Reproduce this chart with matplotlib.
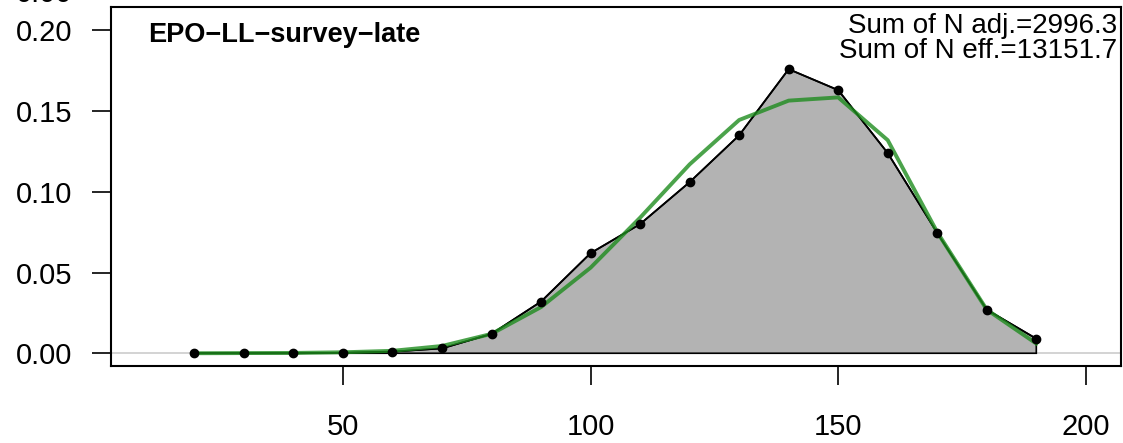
import matplotlib
matplotlib.use("Agg")
import matplotlib.pyplot as plt

plt.rcParams["font.family"] = ["Liberation Sans", "DejaVu Sans"]

FLEET = "EPO\u2212LL\u2212survey\u2212late"
N_ADJ = "Sum of N adj.=2996.3"
N_EFF = "Sum of N eff.=13151.7"

length_bins = [20, 30, 40, 50, 60, 70, 80, 90, 100, 110, 120, 130, 140, 150, 160, 170, 180, 190]
observed = [0.0, 0.0, 0.0, 0.0003, 0.001, 0.003, 0.012, 0.032, 0.062, 0.080,
            0.106, 0.135, 0.176, 0.163, 0.124, 0.0745, 0.027, 0.009]
expected = [0.0, 0.0001, 0.0002, 0.0006, 0.0015, 0.0045, 0.012, 0.0286, 0.053, 0.084,
            0.117, 0.1445, 0.1565, 0.1585, 0.132, 0.075, 0.027, 0.006]

x_ticks = [50, 100, 150, 200]
y_ticks = [0.0, 0.05, 0.10, 0.15, 0.20]

W, H = 1123, 443
fig = plt.figure(figsize=(W / 100, H / 100), dpi=100)
ax = fig.add_axes([111 / W, 1 - 366 / H, 1010 / W, 359 / H])

ax.axhline(0, color="#CCCCCC", lw=1.2, zorder=1)
poly_x = [length_bins[0], *length_bins, length_bins[-1]]
poly_y = [0, *observed, 0]
ax.fill(poly_x, poly_y, facecolor="#B3B3B3", edgecolor="black", lw=1.2, zorder=2)
ax.plot(length_bins, observed, color="black", lw=1.3, zorder=3)
ax.plot(length_bins, observed, "o", color="black", ms=6, zorder=5)
ax.plot(length_bins, expected, color="#1E8C1E", alpha=0.8, lw=2.8, zorder=4)

ax.set_xlim(3.17, 207.1)
ax.set_ylim(-0.0079, 0.2145)
ax.set_xticks(x_ticks)
ax.set_xticklabels([str(v) for v in x_ticks])
ax.set_yticks(y_ticks)
ax.set_yticklabels([f"{v:.2f}" for v in y_ticks])
ax.tick_params(axis="both", labelsize=21, length=14, width=1.2, color="black")
ax.tick_params(axis="x", pad=20)
ax.tick_params(axis="y", pad=14)
for s in ax.spines.values():
    s.set_linewidth(1.5)

# text placed by baseline in figure pixels
ax.text(148 / W, 1 - 42 / H, FLEET, transform=fig.transFigure, fontsize=19.5,
        fontweight="bold", ha="left", va="baseline")
ax.text(1117 / W, 1 - 33 / H, N_ADJ, transform=fig.transFigure, fontsize=20,
        ha="right", va="baseline")
ax.text(1117 / W, 1 - 58 / H, N_EFF, transform=fig.transFigure, fontsize=20,
        ha="right", va="baseline")

# bottom edge of the label from the panel above
fig.text(72 / W, 1 + 6 / H, "0.00", fontsize=21, ha="right", va="center")

fig.savefig("out.png", dpi=100)
